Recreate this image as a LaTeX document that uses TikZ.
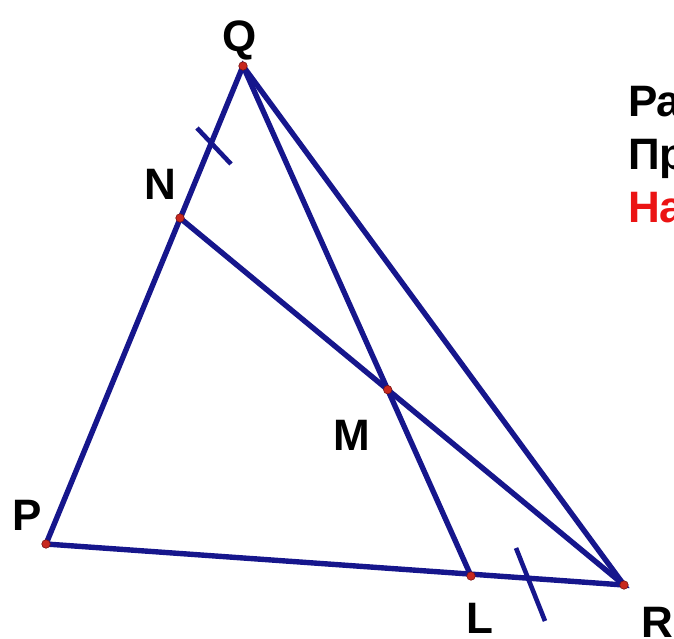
\documentclass[tikz,border=0pt]{standalone}
\usepackage{fontspec}
\setmainfont{Liberation Sans}
\usetikzlibrary{calc,intersections}
\definecolor{segblue}{RGB}{22,22,140}
\definecolor{ptred}{RGB}{200,40,30}
\definecolor{ptdark}{RGB}{120,20,20}
\definecolor{txtred}{RGB}{235,20,20}
\begin{document}
\begin{tikzpicture}[x=1pt,y=-1pt,
  seg/.style={draw=segblue,line width=5.4pt,line cap=round},
  tick/.style={draw=segblue,line width=4.6pt},
  pt/.style={circle,fill=ptred,draw=ptdark,line width=0.6pt,inner sep=0pt,minimum size=8.5pt},
  lbl/.style={font=\fontsize{44}{50}\selectfont\bfseries,anchor=base,inner sep=0pt},
  txt/.style={font=\fontsize{44}{50}\selectfont\bfseries,anchor=base west,inner sep=0pt}]
\useasboundingbox (0,0) rectangle (674,639);
\clip (0,0) rectangle (674,639);
\coordinate (Q) at (243,66);
\coordinate (N) at (180,218);
\coordinate (P) at (46,544);
\coordinate (L) at (471,576);
\coordinate (R) at (624,585);
% sides
\draw[seg] (Q) -- (P) -- (R) -- cycle;
\draw[seg,name path=nr] (N) -- (R);
\draw[seg,name path=ql] (Q) -- (L);
\path[name intersections={of=nr and ql,by=M}];
% equal-length ticks
\coordinate (t1a) at (197,128);
\coordinate (t1b) at (231,164);
\draw[tick] (t1a) -- (t1b);
\coordinate (t2a) at (516,548);
\coordinate (t2b) at (545,621);
\draw[tick] (t2a) -- (t2b);
% points
\node[pt] (pQ) at (Q) {};
\node[pt] (pN) at (N) {};
\node[pt] (pP) at (P) {};
\node[pt] (pL) at (L) {};
\node[pt] (pR) at (R) {};
\node[pt] (pM) at (M) {};
% labels
\node[lbl] (lQ) at (240,52) {Q};
\node[lbl] (lN) at (160,200) {N};
\node[lbl] (lM) at (352,450) {M};
\node[lbl] (lP) at (27,530) {P};
\node[lbl] (lL) at (480,633) {L};
\node[lbl] (lR) at (657,637) {R};
% cropped text at right
\node[txt] (t1) at (628,117) {Ра};
\node[txt] (t2) at (628,170) {Пр};
\node[txt,text=txtred] (t3) at (628,222) {На};
\end{tikzpicture}
\end{document}
